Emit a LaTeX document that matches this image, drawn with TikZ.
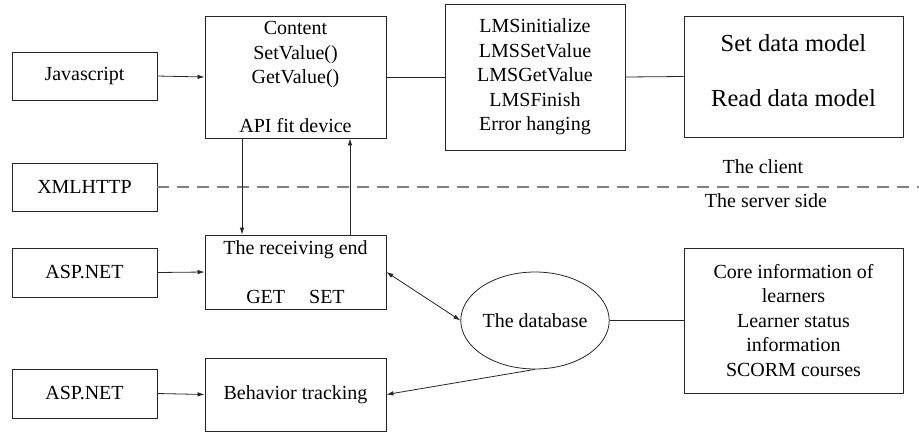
\documentclass[tikz,border=0pt]{standalone}
\usepackage{fontspec}
\setmainfont{LiberationSerif}[Extension=.ttf, UprightFont=*-Regular, BoldFont=*-Bold]
\usetikzlibrary{arrows.meta,shapes.geometric}
\newcommand\myfs{\rmfamily\fontsize{20}{24.5}\selectfont}
\newcommand\mybig{\rmfamily\fontsize{24.5}{30}\selectfont}
\tikzset{
  ln/.style={draw=black!85, line width=0.8pt},
  box/.style={ln, rectangle, inner sep=0pt, align=center, font=\myfs},
  lbl/.style={inner sep=0pt, align=center, font=\myfs},
  arr/.style={ln, -{Latex[length=7pt,width=4.5pt]}},
  darr/.style={ln, {Latex[length=7pt,width=4.5pt]}-{Latex[length=7pt,width=4.5pt]}},
  sep/.style={draw=black!50, line width=1.3pt, dash pattern=on 12pt off 8pt}
}
\begin{document}
\begin{tikzpicture}[x=1pt,y=-1pt]
\useasboundingbox (0,0) rectangle (919,432);
% left column
\node[box, minimum width=145pt, minimum height=48pt] (js) at (84.5,76) {Javascript};
\node[box, minimum width=145pt, minimum height=48pt] (xml) at (84.5,187) {XMLHTTP};
\node[box, minimum width=145pt, minimum height=49pt] (asp1) at (84.5,272.5) {ASP.NET};
\node[box, minimum width=145pt, minimum height=49pt] (asp2) at (84.5,393.5) {ASP.NET};
% middle column
\node[box, minimum width=181pt, minimum height=122pt] (content) at (295.5,77)
  {Content\\SetValue()\\GetValue()\\[24.5pt]API fit device};
\node[box, minimum width=181pt, minimum height=74pt] (recv) at (295.5,272)
  {The receiving end\\[24.5pt]GET\hspace{24pt}SET};
\node[box, minimum width=181pt, minimum height=73pt] (beh) at (295.5,394.5) {Behavior tracking};
% LMS
\node[box, minimum width=180pt, minimum height=146pt] (lms) at (535,77)
  {LMSinitialize\\LMSSetValue\\LMSGetValue\\LMSFinish\\Error hanging};
% data model
\node[box, minimum width=219pt, minimum height=121pt] (dm) at (793.5,76.5) {};
\node[lbl, font=\mybig] (dmt) at (793.5,71) {Set data model\\[25pt]Read data model};
% database
\node[ln, ellipse, minimum width=144pt, minimum height=97pt, inner sep=0pt, font=\myfs] (db) at (535,320.5) {The database};
\node[box, minimum width=219pt, minimum height=145pt] (core) at (793.5,320.5)
  {Core information of\\learners\\Learner status\\information\\SCORM courses};
% labels
\node[lbl] (client) at (763,167) {The client};
\node[lbl] (server) at (766,201) {The server side};
% separator
\coordinate (sepend) at (919,187);
\draw[sep] (xml.east) -- (sepend);
% connectors
\draw[arr] (js.east) -- (content.west);
\draw[ln] (content.east) -- (lms.west);
\draw[ln] (lms.east) -- (dm.west);
\coordinate (vL) at (242,0);
\coordinate (vR) at (350,0);
\draw[arr] (content.south -| vL) -- (recv.north -| vL);
\draw[arr] (recv.north -| vR) -- (content.south -| vR);
\draw[arr] (asp1.east) -- (recv.west);
\draw[arr] (asp2.east) -- (beh.west);
\draw[darr] (recv.east) -- (db.west);
\draw[arr] (db.south) -- (beh.east);
\draw[ln] (db.east) -- (core.west);
\end{tikzpicture}
\end{document}
